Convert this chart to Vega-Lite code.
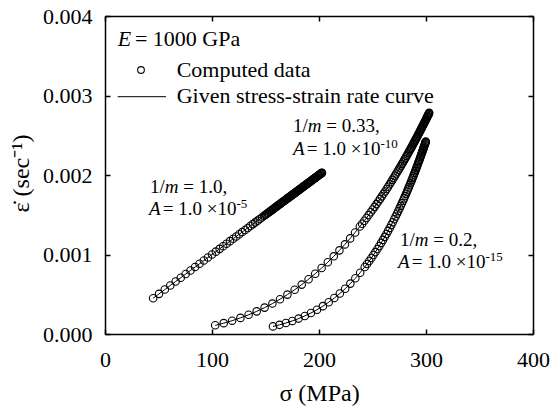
{
"$schema": "https://vega.github.io/schema/vega-lite/v6.json",
"width": 428, "height": 318,
"autosize": {"type": "none"},
"padding": {"left": 105, "top": 16, "right": 19, "bottom": 84},
"background": "white",
"config": {
 "view": {"stroke": null},
 "font": "Liberation Serif, Times New Roman, serif",
 "axis": {"domainColor": "black", "domainWidth": 1.5, "tickColor": "black", "tickWidth": 1.5, "tickSize": -5, "grid": false,
  "labelFont": "Liberation Serif, Times New Roman, serif", "labelFontSize": 22, "labelColor": "black", "labelFlush": false, "labelOverlap": false, "labelBound": false,
  "titleFont": "Liberation Serif, Times New Roman, serif", "titleFontSize": 24, "titleColor": "black", "titleFontWeight": "normal"}
},
"datasets": {
 "pts": [
  {"c":1,"s":45,"e":0.00045},{"c":1,"s":50.5,"e":0.000505},{"c":1,"s":55.9,"e":0.000559},{"c":1,"s":61,"e":0.00061},{"c":1,"s":66,"e":0.00066},{"c":1,"s":70.8,"e":0.000708},{"c":1,"s":75.4,"e":0.000754},{"c":1,"s":79.9,"e":0.000799},{"c":1,"s":84.2,"e":0.000842},{"c":1,"s":88.3,"e":0.000883},{"c":1,"s":92.4,"e":0.000924},{"c":1,"s":96.2,"e":0.000962},{"c":1,"s":100,"e":0.001},{"c":1,"s":103.6,"e":0.001036},{"c":1,"s":107.1,"e":0.001071},{"c":1,"s":110.4,"e":0.001104},{"c":1,"s":113.6,"e":0.001136},{"c":1,"s":116.8,"e":0.001168},{"c":1,"s":119.8,"e":0.001198},{"c":1,"s":122.7,"e":0.001227},{"c":1,"s":125.5,"e":0.001255},{"c":1,"s":128.2,"e":0.001282},{"c":1,"s":130.9,"e":0.001309},{"c":1,"s":133.4,"e":0.001334},{"c":1,"s":135.8,"e":0.001358},{"c":1,"s":138.2,"e":0.001382},{"c":1,"s":140.4,"e":0.001404},{"c":1,"s":142.6,"e":0.001426},{"c":1,"s":144.7,"e":0.001447},{"c":1,"s":146.8,"e":0.001468},{"c":1,"s":148.7,"e":0.001487},{"c":1,"s":149.65,"e":0.0014965},{"c":1,"s":150.6,"e":0.001506},{"c":1,"s":151.55,"e":0.0015155},{"c":1,"s":152.5,"e":0.001525},{"c":1,"s":153.35,"e":0.0015335},{"c":1,"s":154.2,"e":0.001542},{"c":1,"s":155.1,"e":0.001551},{"c":1,"s":156,"e":0.00156},{"c":1,"s":156.8,"e":0.001568},{"c":1,"s":157.6,"e":0.001576},{"c":1,"s":158.4,"e":0.001584},{"c":1,"s":159.2,"e":0.001592},{"c":1,"s":159.95,"e":0.0015995},{"c":1,"s":160.7,"e":0.001607},{"c":1,"s":161.45,"e":0.0016145},{"c":1,"s":162.2,"e":0.001622},{"c":1,"s":162.9,"e":0.001629},{"c":1,"s":163.6,"e":0.001636},{"c":1,"s":164.3,"e":0.001643},{"c":1,"s":165,"e":0.00165},{"c":1,"s":165.65,"e":0.0016565},{"c":1,"s":166.3,"e":0.001663},{"c":1,"s":166.95,"e":0.0016695},{"c":1,"s":167.6,"e":0.001676},{"c":1,"s":168.25,"e":0.0016825},{"c":1,"s":168.9,"e":0.001689},{"c":1,"s":169.5,"e":0.001695},{"c":1,"s":170.1,"e":0.001701},{"c":1,"s":170.65,"e":0.0017065},{"c":1,"s":171.2,"e":0.001712},{"c":1,"s":171.75,"e":0.0017175},{"c":1,"s":172.3,"e":0.001723},{"c":1,"s":172.85,"e":0.0017285},{"c":1,"s":173.4,"e":0.001734},{"c":1,"s":173.9,"e":0.001739},{"c":1,"s":174.4,"e":0.001744},{"c":1,"s":174.9,"e":0.001749},{"c":1,"s":175.4,"e":0.001754},{"c":1,"s":175.9,"e":0.001759},{"c":1,"s":176.4,"e":0.001764},{"c":1,"s":176.9,"e":0.001769},{"c":1,"s":177.4,"e":0.001774},{"c":1,"s":177.9,"e":0.001779},{"c":1,"s":178.4,"e":0.001784},{"c":1,"s":178.9,"e":0.001789},{"c":1,"s":179.4,"e":0.001794},{"c":1,"s":179.9,"e":0.001799},{"c":1,"s":180.4,"e":0.001804},{"c":1,"s":180.9,"e":0.001809},{"c":1,"s":181.4,"e":0.001814},{"c":1,"s":181.9,"e":0.001819},{"c":1,"s":182.4,"e":0.001824},{"c":1,"s":182.9,"e":0.001829},{"c":1,"s":183.4,"e":0.001834},{"c":1,"s":183.9,"e":0.001839},{"c":1,"s":184.4,"e":0.001844},{"c":1,"s":184.9,"e":0.001849},{"c":1,"s":185.4,"e":0.001854},{"c":1,"s":185.9,"e":0.001859},{"c":1,"s":186.4,"e":0.001864},{"c":1,"s":186.9,"e":0.001869},{"c":1,"s":187.4,"e":0.001874},{"c":1,"s":187.9,"e":0.001879},{"c":1,"s":188.4,"e":0.001884},{"c":1,"s":188.9,"e":0.001889},{"c":1,"s":189.4,"e":0.001894},{"c":1,"s":189.9,"e":0.001899},{"c":1,"s":190.4,"e":0.001904},{"c":1,"s":190.9,"e":0.001909},{"c":1,"s":191.4,"e":0.001914},{"c":1,"s":191.9,"e":0.001919},{"c":1,"s":192.4,"e":0.001924},{"c":1,"s":192.9,"e":0.001929},{"c":1,"s":193.4,"e":0.001934},{"c":1,"s":193.9,"e":0.001939},{"c":1,"s":194.4,"e":0.001944},{"c":1,"s":194.9,"e":0.001949},{"c":1,"s":195.4,"e":0.001954},{"c":1,"s":195.9,"e":0.001959},{"c":1,"s":196.4,"e":0.001964},{"c":1,"s":196.9,"e":0.001969},{"c":1,"s":197.4,"e":0.001974},{"c":1,"s":197.9,"e":0.001979},{"c":1,"s":198.4,"e":0.001984},{"c":1,"s":198.9,"e":0.001989},{"c":1,"s":199.4,"e":0.001994},{"c":1,"s":199.9,"e":0.001999},{"c":1,"s":200.4,"e":0.002004},{"c":1,"s":200.9,"e":0.002009},{"c":1,"s":201.4,"e":0.002014},{"c":1,"s":201.9,"e":0.002019},{"c":1,"s":202.4,"e":0.002024},{"c":1,"s":202.6,"e":0.002026},{"c":1,"s":202.8,"e":0.002028},
  {"c":2,"s":103,"e":0.0001093},{"c":2,"s":110.94,"e":0.0001365},{"c":2,"s":118.79,"e":0.0001676},{"c":2,"s":126.55,"e":0.0002027},{"c":2,"s":134.21,"e":0.0002417},{"c":2,"s":141.75,"e":0.0002848},{"c":2,"s":149.16,"e":0.0003319},{"c":2,"s":156.43,"e":0.0003828},{"c":2,"s":163.54,"e":0.0004374},{"c":2,"s":170.49,"e":0.0004956},{"c":2,"s":177.27,"e":0.0005571},{"c":2,"s":183.86,"e":0.0006215},{"c":2,"s":190.26,"e":0.0006887},{"c":2,"s":196.46,"e":0.0007583},{"c":2,"s":202.45,"e":0.0008298},{"c":2,"s":208.22,"e":0.0009028},{"c":2,"s":213.78,"e":0.000977},{"c":2,"s":219.11,"e":0.0010519},{"c":2,"s":224.22,"e":0.0011273},{"c":2,"s":229.1,"e":0.0012025},{"c":2,"s":233.76,"e":0.0012774},{"c":2,"s":238.19,"e":0.0013514},{"c":2,"s":240.3,"e":0.0013876},{"c":2,"s":242.4,"e":0.0014243},{"c":2,"s":244.4,"e":0.0014598},{"c":2,"s":246.39,"e":0.0014958},{"c":2,"s":248.3,"e":0.0015308},{"c":2,"s":250.17,"e":0.0015657},{"c":2,"s":251.95,"e":0.0015994},{"c":2,"s":253.74,"e":0.0016337},{"c":2,"s":255.4,"e":0.001666},{"c":2,"s":257.1,"e":0.0016994},{"c":2,"s":258.7,"e":0.0017314},{"c":2,"s":260.27,"e":0.0017631},{"c":2,"s":261.75,"e":0.0017933},{"c":2,"s":263.24,"e":0.0018241},{"c":2,"s":264.6,"e":0.0018526},{"c":2,"s":266.03,"e":0.0018828},{"c":2,"s":267.35,"e":0.0019109},{"c":2,"s":268.65,"e":0.0019389},{"c":2,"s":269.85,"e":0.001965},{"c":2,"s":271.09,"e":0.0019922},{"c":2,"s":272.25,"e":0.0020179},{"c":2,"s":273.38,"e":0.0020432},{"c":2,"s":274.45,"e":0.0020672},{"c":2,"s":275.51,"e":0.0020913},{"c":2,"s":276.5,"e":0.0021139},{"c":2,"s":277.5,"e":0.0021369},{"c":2,"s":278.4,"e":0.0021578},{"c":2,"s":279.35,"e":0.00218},{"c":2,"s":280.2,"e":0.0021999},{"c":2,"s":281.08,"e":0.0022207},{"c":2,"s":281.9,"e":0.0022402},{"c":2,"s":282.68,"e":0.0022588},{"c":2,"s":283.4,"e":0.0022761},{"c":2,"s":284.16,"e":0.0022945},{"c":2,"s":284.85,"e":0.0023113},{"c":2,"s":285.54,"e":0.0023281},{"c":2,"s":286.2,"e":0.0023443},{"c":2,"s":286.8,"e":0.0023591},{"c":2,"s":287.4,"e":0.0023739},{"c":2,"s":288,"e":0.0023888},{"c":2,"s":288.6,"e":0.0024038},{"c":2,"s":289.2,"e":0.0024188},{"c":2,"s":289.75,"e":0.0024326},{"c":2,"s":290.3,"e":0.0024465},{"c":2,"s":290.85,"e":0.0024604},{"c":2,"s":291.4,"e":0.0024744},{"c":2,"s":291.95,"e":0.0024884},{"c":2,"s":292.5,"e":0.0025025},{"c":2,"s":293,"e":0.0025154},{"c":2,"s":293.5,"e":0.0025283},{"c":2,"s":294,"e":0.0025412},{"c":2,"s":294.5,"e":0.0025542},{"c":2,"s":294.95,"e":0.0025659},{"c":2,"s":295.4,"e":0.0025777},{"c":2,"s":295.85,"e":0.0025895},{"c":2,"s":296.3,"e":0.0026013},{"c":2,"s":296.75,"e":0.0026132},{"c":2,"s":297.2,"e":0.0026251},{"c":2,"s":297.6,"e":0.0026357},{"c":2,"s":298,"e":0.0026464},{"c":2,"s":298.4,"e":0.002657},{"c":2,"s":298.8,"e":0.0026677},{"c":2,"s":299.15,"e":0.0026771},{"c":2,"s":299.5,"e":0.0026865},{"c":2,"s":299.85,"e":0.002696},{"c":2,"s":300.2,"e":0.0027054},{"c":2,"s":300.5,"e":0.0027135},{"c":2,"s":300.8,"e":0.0027217},{"c":2,"s":301.1,"e":0.0027298},{"c":2,"s":301.4,"e":0.002738},{"c":2,"s":301.7,"e":0.0027462},{"c":2,"s":302,"e":0.0027544},{"c":2,"s":302.25,"e":0.0027612},{"c":2,"s":302.5,"e":0.0027681},{"c":2,"s":302.75,"e":0.0027749},{"c":2,"s":303,"e":0.0027818},
  {"c":3,"s":157,"e":0.0000954},{"c":3,"s":163.07,"e":0.0001153},{"c":3,"s":169.09,"e":0.0001382},{"c":3,"s":175.05,"e":0.0001644},{"c":3,"s":180.94,"e":0.0001939},{"c":3,"s":186.75,"e":0.0002271},{"c":3,"s":192.48,"e":0.0002642},{"c":3,"s":198.11,"e":0.0003052},{"c":3,"s":203.64,"e":0.0003502},{"c":3,"s":209.05,"e":0.0003993},{"c":3,"s":214.33,"e":0.0004523},{"c":3,"s":219.47,"e":0.0005092},{"c":3,"s":224.46,"e":0.0005698},{"c":3,"s":229.3,"e":0.0006339},{"c":3,"s":233.97,"e":0.0007011},{"c":3,"s":238.47,"e":0.0007712},{"c":3,"s":242.78,"e":0.0008435},{"c":3,"s":244.85,"e":0.00088},{"c":3,"s":246.91,"e":0.0009177},{"c":3,"s":248.9,"e":0.00095527},{"c":3,"s":250.84,"e":0.0009931},{"c":3,"s":252.7,"e":0.0010304},{"c":3,"s":254.58,"e":0.0010694},{"c":3,"s":256.35,"e":0.0011071},{"c":3,"s":258.12,"e":0.0011458},{"c":3,"s":259.8,"e":0.0011836},{"c":3,"s":261.46,"e":0.0012219},{"c":3,"s":263,"e":0.0012583},{"c":3,"s":264.6,"e":0.001297},{"c":3,"s":266.1,"e":0.0013342},{"c":3,"s":267.55,"e":0.001371},{"c":3,"s":268.9,"e":0.0014059},{"c":3,"s":270.3,"e":0.0014429},{"c":3,"s":271.6,"e":0.0014779},{"c":3,"s":272.87,"e":0.0015128},{"c":3,"s":274.05,"e":0.0015458},{"c":3,"s":275.25,"e":0.0015799},{"c":3,"s":276.35,"e":0.0016118},{"c":3,"s":277.46,"e":0.0016444},{"c":3,"s":278.5,"e":0.0016754},{"c":3,"s":279.5,"e":0.0017057},{"c":3,"s":280.45,"e":0.0017349},{"c":3,"s":281.38,"e":0.0017639},{"c":3,"s":282.25,"e":0.0017913},{"c":3,"s":283.11,"e":0.0018188},{"c":3,"s":283.9,"e":0.0018443},{"c":3,"s":284.7,"e":0.0018704},{"c":3,"s":285.45,"e":0.0018952},{"c":3,"s":286.16,"e":0.0019189},{"c":3,"s":286.8,"e":0.0019404},{"c":3,"s":287.49,"e":0.0019639},{"c":3,"s":288.1,"e":0.0019848},{"c":3,"s":288.7,"e":0.0020056},{"c":3,"s":289.3,"e":0.0020265},{"c":3,"s":289.9,"e":0.0020476},{"c":3,"s":290.45,"e":0.0020671},{"c":3,"s":291,"e":0.0020867},{"c":3,"s":291.5,"e":0.0021047},{"c":3,"s":292,"e":0.0021228},{"c":3,"s":292.5,"e":0.0021411},{"c":3,"s":293,"e":0.0021594},{"c":3,"s":293.45,"e":0.0021761},{"c":3,"s":293.9,"e":0.0021928},{"c":3,"s":294.35,"e":0.0022096},{"c":3,"s":294.8,"e":0.0022266},{"c":3,"s":295.2,"e":0.0022417},{"c":3,"s":295.6,"e":0.002257},{"c":3,"s":296,"e":0.0022723},{"c":3,"s":296.4,"e":0.0022877},{"c":3,"s":296.75,"e":0.0023012},{"c":3,"s":297.1,"e":0.0023148},{"c":3,"s":297.45,"e":0.0023285},{"c":3,"s":297.8,"e":0.0023422},{"c":3,"s":298.1,"e":0.002354},{"c":3,"s":298.4,"e":0.0023659},{"c":3,"s":298.7,"e":0.0023778},{"c":3,"s":299,"e":0.0023898},{"c":3,"s":299.25,"e":0.0023998},{"c":3,"s":299.5,"e":0.0024098},{"c":3,"s":299.65,"e":0.0024159},{"c":3,"s":299.8,"e":0.0024219}
 ],
 "leg": [{"x":28,"y":0.0036228,"t":"= 1000 GPa"},{"x":67.01,"y":0.003229,"t":"Computed data"},{"x":67.01,"y":0.0029095,"t":"Given stress-strain rate curve"}],
 "legit": [{"x":11.87,"y":0.0036228,"t":"E"}],
 "legpt": [{"x":33.64,"y":0.0033209}],
 "legln": [{"x":11.87,"x2":57.01,"y":0.002985}],
 "ann": [{"x":42.06,"y":0.0017736,"t":"1/"},{"x":73.18,"y":0.0017736,"t":"= 1.0,"},{"x":53.93,"y":0.0014969,"t":"= 1.0 ×10"},
  {"x":175.7,"y":0.002541,"t":"1/"},{"x":206.82,"y":0.002541,"t":"= 0.33,"},{"x":188.5,"y":0.0022516,"t":"= 1.0 ×10"},
  {"x":275.7,"y":0.001107,"t":"1/"},{"x":306.82,"y":0.001107,"t":"= 0.2,"},{"x":286.64,"y":0.00083021,"t":"= 1.0 ×10"}],
 "annit": [{"x":55.89,"y":0.0017736,"t":"m"},{"x":41.12,"y":0.0014969,"t":"A"},{"x":189.53,"y":0.002541,"t":"m"},{"x":175.7,"y":0.0022516,"t":"A"},{"x":289.53,"y":0.001107,"t":"m"},{"x":273.83,"y":0.00083021,"t":"A"}],
 "sup": [{"x":122.8,"y":0.001585,"t":"-5"},{"x":257.38,"y":0.0023397,"t":"-10"},{"x":355.51,"y":0.00091827,"t":"-15"}]
},
"layer": [
 {"data": {"name": "pts"},
  "mark": {"type": "line", "color": "black", "strokeWidth": 1},
  "encoding": {
   "x": {"field": "s", "type": "quantitative", "scale": {"domain": [0, 400], "nice": false},
    "axis": {"orient": "bottom", "values": [0,100,200,300,400], "labelPadding": 20, "title": "σ (MPa)", "titleBaseline": "alphabetic", "titleY": 66}},
   "y": {"field": "e", "type": "quantitative", "scale": {"domain": [0, 0.004], "nice": false, "zero": false},
    "axis": {"orient": "left", "values": [0,0.001,0.002,0.003,0.004], "format": ".3f", "labelPadding": 18, "title": "ε̇ (sec⁻¹)", "titleX": -84, "titleY": 157, "titleBaseline": "middle"}},
   "detail": {"field": "c", "type": "nominal"}
  }},
 {"data": {"name": "pts"},
  "mark": {"type": "point", "shape": "circle", "filled": false, "stroke": "black", "strokeWidth": 1.1, "size": 56, "opacity": 1},
  "encoding": {
   "x": {"field": "s", "type": "quantitative", "axis": {"orient": "top", "values": [0,100,200,300,400], "labels": false, "title": null}},
   "y": {"field": "e", "type": "quantitative", "axis": {"orient": "right", "values": [0,0.001,0.002,0.003,0.004], "labels": false, "title": null}}
  }},
 {"data": {"name": "legpt"},
  "mark": {"type": "point", "shape": "circle", "filled": false, "stroke": "black", "strokeWidth": 1.1, "size": 45, "opacity": 1},
  "encoding": {"x": {"field": "x", "type": "quantitative", "axis": null}, "y": {"field": "y", "type": "quantitative", "axis": null}}},
 {"data": {"name": "legln"},
  "mark": {"type": "rule", "color": "black", "strokeWidth": 1},
  "encoding": {"x": {"field": "x", "type": "quantitative", "axis": null}, "x2": {"field": "x2"}, "y": {"field": "y", "type": "quantitative", "axis": null}}},
 {"data": {"name": "leg"},
  "mark": {"type": "text", "align": "left", "baseline": "alphabetic", "font": "Liberation Serif, Times New Roman, serif", "fontSize": 22, "color": "black"},
  "encoding": {"x": {"field": "x", "type": "quantitative", "axis": null}, "y": {"field": "y", "type": "quantitative", "axis": null}, "text": {"field": "t"}}},
 {"data": {"name": "legit"},
  "mark": {"type": "text", "align": "left", "baseline": "alphabetic", "font": "Liberation Serif, Times New Roman, serif", "fontStyle": "italic", "fontSize": 22, "color": "black"},
  "encoding": {"x": {"field": "x", "type": "quantitative", "axis": null}, "y": {"field": "y", "type": "quantitative", "axis": null}, "text": {"field": "t"}}},
 {"data": {"name": "ann"},
  "mark": {"type": "text", "align": "left", "baseline": "alphabetic", "font": "Liberation Serif, Times New Roman, serif", "fontSize": 19, "color": "black"},
  "encoding": {"x": {"field": "x", "type": "quantitative", "axis": null}, "y": {"field": "y", "type": "quantitative", "axis": null}, "text": {"field": "t"}}},
 {"data": {"name": "annit"},
  "mark": {"type": "text", "align": "left", "baseline": "alphabetic", "font": "Liberation Serif, Times New Roman, serif", "fontStyle": "italic", "fontSize": 19, "color": "black"},
  "encoding": {"x": {"field": "x", "type": "quantitative", "axis": null}, "y": {"field": "y", "type": "quantitative", "axis": null}, "text": {"field": "t"}}},
 {"data": {"name": "sup"},
  "mark": {"type": "text", "align": "left", "baseline": "alphabetic", "font": "Liberation Serif, Times New Roman, serif", "fontSize": 13, "color": "black"},
  "encoding": {"x": {"field": "x", "type": "quantitative", "axis": null}, "y": {"field": "y", "type": "quantitative", "axis": null}, "text": {"field": "t"}}}
],
"resolve": {"axis": {"x": "independent", "y": "independent"}}
}
